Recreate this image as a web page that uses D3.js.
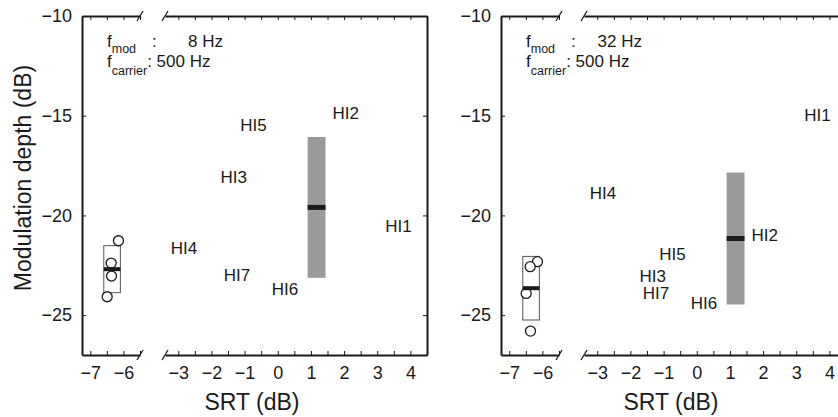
<!DOCTYPE html>
<html>
<head>
<meta charset="utf-8">
<script src="https://cdn.jsdelivr.net/npm/d3@7"></script>
<style>
  body { margin: 0; background: #fff; }
  svg { font-family: "Liberation Sans", Arial, sans-serif; }
  .axis path, .axis line { stroke: #1a1a1a; }
  .axis text { font-size: 18px; fill: #1a1a1a; }
</style>
</head>
<body>
<svg id="chart" width="838" height="417"></svg>
<script>
// listener labels and their SRTs (same listeners in both panels)
const hiLabels = ['HI1', 'HI2', 'HI3', 'HI4', 'HI5', 'HI6', 'HI7'];
const hiSRT = [3.24, 1.65, -1.73, -3.23, -1.13, -0.18, -1.63];
// modulation depth thresholds (dB) of the HI listeners
const hiMod8 = [-20.53, -14.86, -18.06, -21.62, -15.47, -23.66, -22.99];
const hiMod32 = [-14.96, -20.98, -23.04, -18.89, -21.94, -24.41, -23.88];

// normal hearing listeners
const nhSRT = [-6.15, -6.37, -6.36, -6.49];
const nhMod8 = [-21.27, -22.39, -23.04, -24.08];
const nhMod32 = [-22.32, -22.57, -25.80, -23.91];

const fmodLabels = ['8 Hz', '32 Hz'];
const carrierLabel = '500 Hz';

const xTicksLeft = [-7, -6];
const xTicksRight = [-3, -2, -1, 0, 1, 2, 3, 4];
const yTicks = [-25, -20, -15, -10];

const width = 345, height = 339;
const panelX = [82, 501];
const marginTop = 16;

const svg = d3.select('#chart');

let yScale = d3.scaleLinear().domain([-27, -10]).range([height, 0]);
let xLeft = d3.scaleLinear().domain([-7.25, -5.5]).range([0, 58]);
let xRight = d3.scaleLinear().domain([-3.4, 4.5]).range([83, width]);

const hiBarX = 1.17, hiBarW = 0.54;
const nhBoxW = 0.5;

function drawPanel(idx, hiMod, nhMod) {
  let g = svg.append('g')
    .attr('transform', 'translate(' + panelX[idx] + ',' + marginTop + ')');

  // minor ticks every 0.5 on x
  let leftMinor = d3.range(-7, -5.49, 0.5);
  let rightMinor = d3.range(-3, 4.51, 0.5);
  let fmt = d => (Number.isInteger(d) ? d3.format('')(d) : '');

  g.append('g').attr('class', 'axis')
    .attr('transform', 'translate(0,' + height + ')')
    .call(d3.axisBottom(xLeft).tickValues(leftMinor).tickFormat(d => xTicksLeft.includes(d) ? fmt(d) : '')
      .tickSizeInner(-4).tickSizeOuter(0).tickPadding(11));
  g.append('g').attr('class', 'axis')
    .attr('transform', 'translate(0,' + height + ')')
    .call(d3.axisBottom(xRight).tickValues(rightMinor).tickFormat(d => xTicksRight.includes(d) ? fmt(d) : '')
      .tickSizeInner(-4).tickSizeOuter(0).tickPadding(11));
  g.append('g').attr('class', 'axis')
    .call(d3.axisTop(xLeft).tickValues(leftMinor).tickFormat('').tickSizeInner(-4).tickSizeOuter(0));
  g.append('g').attr('class', 'axis')
    .call(d3.axisTop(xRight).tickValues(rightMinor).tickFormat('').tickSizeInner(-4).tickSizeOuter(0));
  g.append('g').attr('class', 'axis')
    .call(d3.axisLeft(yScale).tickValues(yTicks).tickFormat(d3.format(''))
      .tickSizeInner(-4).tickSizeOuter(0).tickPadding(10));
  g.append('g').attr('class', 'axis')
    .attr('transform', 'translate(' + width + ',0)')
    .call(d3.axisRight(yScale).tickValues(yTicks).tickFormat('').tickSizeInner(-4).tickSizeOuter(0));

  g.selectAll('.axis path').attr('stroke-width', 2);
  g.selectAll('.axis line').attr('stroke-width', 1);

  // axis break marks
  [xLeft.range()[1], xRight.range()[0]].forEach(bx => {
    [0, height].forEach(by => {
      g.append('line')
        .attr('x1', bx - 3).attr('y1', by + 5)
        .attr('x2', bx + 3).attr('y2', by - 5)
        .attr('stroke', '#1a1a1a').attr('stroke-width', 1.3);
    });
  });

  // HI mean +/- sd bar
  let hiMean = d3.mean(hiMod), hiSd = d3.deviation(hiMod);
  g.append('rect')
    .attr('x', xRight(hiBarX - hiBarW / 2))
    .attr('y', yScale(hiMean + hiSd))
    .attr('width', xRight(hiBarX + hiBarW / 2) - xRight(hiBarX - hiBarW / 2))
    .attr('height', yScale(hiMean - hiSd) - yScale(hiMean + hiSd))
    .attr('fill', '#999a9c');
  g.append('rect')
    .attr('x', xRight(hiBarX - hiBarW / 2))
    .attr('y', yScale(hiMean) - 2.5)
    .attr('width', xRight(hiBarX + hiBarW / 2) - xRight(hiBarX - hiBarW / 2))
    .attr('height', 5)
    .attr('fill', '#1a1a1a');

  // HI labels at their data points
  g.selectAll('text.hi')
    .data(hiLabels)
    .enter()
    .append('text')
    .attr('class', 'hi')
    .attr('x', (d, i) => xRight(hiSRT[i]))
    .attr('y', (d, i) => yScale(hiMod[i]))
    .attr('dy', '0.36em')
    .attr('font-size', 17)
    .attr('fill', '#1a1a1a')
    .text(d => d);

  // NH mean +/- sd box
  let nhMean = d3.mean(nhMod), nhSd = d3.deviation(nhMod);
  let nhX = d3.mean(nhSRT);
  g.append('rect')
    .attr('x', xLeft(nhX - nhBoxW / 2))
    .attr('y', yScale(nhMean + nhSd))
    .attr('width', xLeft(nhX + nhBoxW / 2) - xLeft(nhX - nhBoxW / 2))
    .attr('height', yScale(nhMean - nhSd) - yScale(nhMean + nhSd))
    .attr('fill', 'none')
    .attr('stroke', '#555')
    .attr('stroke-width', 1);

  g.selectAll('circle.nh')
    .data(nhMod)
    .enter()
    .append('circle')
    .attr('class', 'nh')
    .attr('cx', (d, i) => xLeft(nhSRT[i]))
    .attr('cy', d => yScale(d))
    .attr('r', 5)
    .attr('fill', 'white')
    .attr('stroke', '#1a1a1a')
    .attr('stroke-width', 1.3);

  g.append('rect')
    .attr('x', xLeft(nhX - nhBoxW / 2))
    .attr('y', yScale(nhMean) - 2)
    .attr('width', xLeft(nhX + nhBoxW / 2) - xLeft(nhX - nhBoxW / 2))
    .attr('height', 4)
    .attr('fill', '#1a1a1a');

  // condition annotation
  let ann = g.append('g').attr('fill', '#1a1a1a').attr('font-size', 17);
  let t1 = ann.append('text').attr('x', 25).attr('y', 31);
  t1.append('tspan').text('f');
  t1.append('tspan').attr('font-size', 12.5).attr('dy', 6).text('mod');
  ann.append('text').attr('x', 70).attr('y', 31).text(':');
  ann.append('text').attr('x', 141).attr('y', 31).attr('text-anchor', 'end').text(fmodLabels[idx]);
  let t2 = ann.append('text').attr('x', 25).attr('y', 51);
  t2.append('tspan').text('f');
  t2.append('tspan').attr('font-size', 12.5).attr('dy', 8).text('carrier');
  t2.append('tspan').attr('dy', -8).text(': ' + carrierLabel);

  // x label
  g.append('text')
    .attr('x', 170)
    .attr('y', 394)
    .attr('text-anchor', 'middle')
    .attr('font-size', 23)
    .attr('fill', '#1a1a1a')
    .text('SRT (dB)');

  return g;
}

drawPanel(0, hiMod8, nhMod8);
drawPanel(1, hiMod32, nhMod32);

svg.append('text')
  .attr('transform', 'translate(31,' + (marginTop + 162) + ') rotate(-90)')
  .attr('text-anchor', 'middle')
  .attr('font-size', 23)
  .attr('fill', '#1a1a1a')
  .text('Modulation depth (dB)');
</script>
</body>
</html>
